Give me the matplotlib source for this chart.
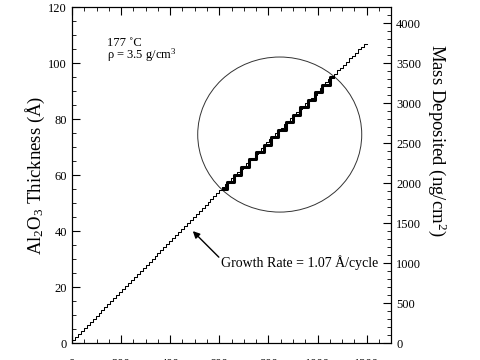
import matplotlib
matplotlib.use("Agg")
import matplotlib.pyplot as plt
from matplotlib.patches import Ellipse
from matplotlib.ticker import MultipleLocator

plt.rcParams.update({
    "font.family": ["Liberation Serif", "DejaVu Serif"],
    "mathtext.fontset": "custom",
    "mathtext.rm": "Liberation Serif",
    "mathtext.it": "Liberation Serif:italic",
    "xtick.direction": "in",
    "ytick.direction": "in",
})

# cycle start times (s) and film thickness (A) after each cycle
cycle_time = [
    0, 12, 24, 36, 48, 60, 72, 84, 96, 108, 120, 132, 144, 156, 168, 180, 192,
    204, 216, 228, 240, 252, 264, 276, 288, 300, 312, 324, 336, 348, 360, 372,
    384, 396, 408, 420, 432, 444, 456, 468, 480, 492, 504, 516, 528, 540, 552,
    564, 576, 588, 600, 612, 624, 636, 648, 660, 672, 684, 696, 708, 720, 732,
    744, 756, 768, 780, 792, 804, 816, 828, 840, 852, 864, 876, 888, 900, 912,
    924, 936, 948, 960, 972, 984, 996, 1008, 1020, 1032, 1044, 1056, 1068, 1080,
    1092, 1104, 1116, 1128, 1140, 1152, 1164, 1176, 1188, 1200,
]
thickness = [
    0.0, 1.1, 2.1, 3.2, 4.3, 5.4, 6.4, 7.5, 8.6, 9.6, 10.7, 11.8, 12.8, 13.9,
    15.0, 16.1, 17.1, 18.2, 19.3, 20.3, 21.4, 22.5, 23.5, 24.6, 25.7, 26.8,
    27.8, 28.9, 30.0, 31.0, 32.1, 33.2, 34.2, 35.3, 36.4, 37.5, 38.5, 39.6,
    40.7, 41.7, 42.8, 43.9, 44.9, 46.0, 47.1, 48.2, 49.2, 50.3, 51.4, 52.4,
    53.5, 54.6, 55.6, 56.7, 57.8, 58.9, 59.9, 61.0, 62.1, 63.1, 64.2, 65.3,
    66.3, 67.4, 68.5, 69.6, 70.6, 71.7, 72.8, 73.8, 74.9, 76.0, 77.0, 78.1,
    79.2, 80.3, 81.3, 82.4, 83.5, 84.5, 85.6, 86.7, 87.7, 88.8, 89.9, 91.0,
    92.0, 93.1, 94.2, 95.2, 96.3, 97.4, 98.4, 99.5, 100.6, 101.7, 102.7, 103.8,
    104.9, 105.9, 107.0,
]

# highlighted section inside the circle
zoom_time = [615, 645, 675, 705, 735, 765, 795, 825, 855, 885, 915, 945,
             975, 1005, 1035, 1065]
zoom_thickness = [54.9, 57.5, 60.2, 62.9, 65.6, 68.2, 70.9, 73.6, 76.3, 78.9,
                  81.6, 84.3, 87.0, 89.6, 92.3, 95.0]

density = 3.5  # g/cm3 -> 35 ng/cm2 per A

fig = plt.figure(figsize=(4.8, 3.6), dpi=100)
ax = fig.add_axes([0.15, 0.047, 0.665, 0.933])

ax.step(cycle_time, thickness, where="pre", color="black", lw=0.75)
ax.step(zoom_time, zoom_thickness, where="mid", color="black", lw=2.2,
        solid_joinstyle="round")

ax.add_patch(Ellipse((846, 74.5), 668, 55.4, fill=False, lw=0.7, color="#333333"))

ax.set_xlim(0, 1300)
ax.set_ylim(0, 120)
ax.xaxis.set_major_locator(MultipleLocator(200))
ax.xaxis.set_minor_locator(MultipleLocator(50))
ax.yaxis.set_major_locator(MultipleLocator(20))
ax.yaxis.set_minor_locator(MultipleLocator(5))
ax.tick_params(which="both", top=True, labelsize=9)
ax.tick_params(axis="x", pad=11)
ax.tick_params(which="major", length=6)
ax.tick_params(which="minor", length=3)
ax.set_xlabel("Time (s)")

ax2 = ax.twinx()
ax2.set_ylim(0, 120 * density * 10)
ax2.yaxis.set_major_locator(MultipleLocator(500))
ax2.yaxis.set_minor_locator(MultipleLocator(100))
ax2.tick_params(which="both", labelsize=9)
ax2.tick_params(which="major", length=6)
ax2.tick_params(which="minor", length=3)

fig.text(35 / 480, 1 - 175 / 360,
         r"Al$_\mathrm{2}$O$_\mathrm{3}$ Thickness ($\mathrm{\AA}$)",
         rotation=90, fontsize=13.5, ha="center", va="center")
fig.text(437 / 480, 1 - 140 / 360, r"Mass Deposited (ng/cm$^\mathrm{2}$)",
         rotation=270, fontsize=13.5, ha="center", va="center")

ax.text(143, 106.3, "177 \u02daC", fontsize=9, va="baseline")
ax.text(143, 101.7, r"$\mathrm{\rho}$ = 3.5 g/cm$^\mathrm{3}$", fontsize=9,
        va="baseline")

ax.annotate("", xy=(492, 40), xytext=(598, 30.7),
            arrowprops=dict(arrowstyle="-|>", color="black", lw=1.0,
                            shrinkA=0, shrinkB=0, mutation_scale=10))
ax.text(607, 28.9, "Growth Rate = 1.07 \u00c5/cycle", fontsize=10, va="center")

fig.savefig("out.png", dpi=100)
